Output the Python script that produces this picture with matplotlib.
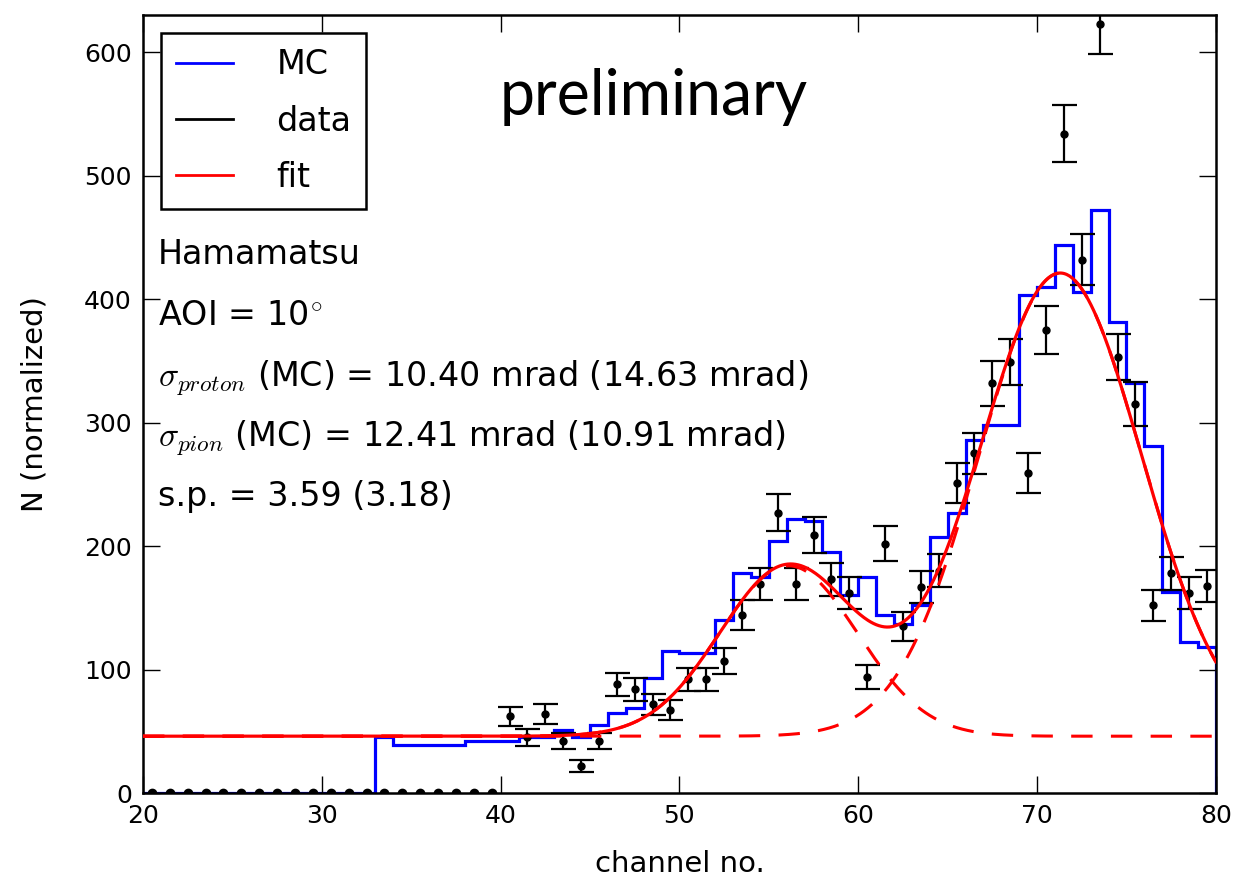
import numpy as np
import matplotlib
matplotlib.use('Agg')
import matplotlib.pyplot as plt
from matplotlib.lines import Line2D

# channel bins (1 channel wide) from 20 to 80
bin_edges = np.arange(20, 81)

# MC histogram, one value per bin 20..79
mc_counts = [0] * 13 + [45, 39, 39, 39, 39, 42, 42, 42, 45, 45,
                        51, 45, 55, 65, 69, 93, 115, 113, 113, 140,
                        178, 175, 204, 222, 220, 195, 160, 175, 144, 137,
                        152, 207, 227, 286, 298, 298, 403, 410, 444, 406,
                        472, 381, 332, 281, 163, 122, 118]

# measured data, one value per bin 20..79
data_counts = [0] * 20 + [62, 45, 64, 42, 22, 42, 88, 84, 72, 67,
                          92, 92, 107, 144, 169, 227, 169, 209, 173, 162,
                          94, 202, 135, 167, 180, 251, 275, 332, 349, 259,
                          375, 534, 432, 623, 353, 315, 152, 178, 162, 168]

# fit: flat background + two gaussians (proton, pion)
bkg = 46.0
amp1, mu1, sig1 = 138.0, 56.1, 3.85
amp2, mu2, sig2 = 375.0, 71.3, 4.55

info_lines = [
    'Hamamatsu',
    r'AOI = 10$^{\circ}$',
    r'$\sigma_{proton}$ (MC) = 10.40 mrad (14.63 mrad)',
    r'$\sigma_{pion}$ (MC) = 12.41 mrad (10.91 mrad)',
    's.p. = 3.59 (3.18)',
]
info_y = [436, 387, 336, 288, 240]

plt.rcParams['mathtext.fontset'] = 'cm'

fig = plt.figure(figsize=(12.36, 8.82), dpi=100)
ax = fig.add_axes([0.1157, 0.1009, 0.868, 0.8821])

mc = np.array(mc_counts, dtype=float)
data = np.array(data_counts, dtype=float)
centers = bin_edges[:-1] + 0.5

ax.stairs(mc, bin_edges, baseline=0, color='blue', lw=2.3, zorder=1)

# data points with poisson errors
nz = data > 0
ax.errorbar(centers[nz], data[nz], yerr=np.sqrt(data[nz]), fmt='o', color='k',
            ms=5, capsize=9, elinewidth=1.6, capthick=1.6, zorder=2)
ax.plot(centers[~nz], data[~nz], 'o', color='k', ms=6, zorder=2)

xf = np.linspace(20, 80, 800)
g1 = amp1 * np.exp(-(xf - mu1) ** 2 / (2 * sig1 ** 2))
g2 = amp2 * np.exp(-(xf - mu2) ** 2 / (2 * sig2 ** 2))
ax.plot(xf, bkg + g1, color='red', lw=2.2, dashes=(7, 6), zorder=3)
ax.plot(xf, bkg + g2, color='red', lw=2.2, dashes=(7, 6), zorder=3)
ax.plot(xf, bkg + g1 + g2, color='red', lw=2.3, zorder=4)

ax.set_xlim(20, 80)
ax.set_ylim(0, 630)
ax.set_xticks(np.arange(20, 81, 10))
ax.set_yticks(np.arange(0, 601, 100))
ax.tick_params(direction='in', length=12, width=1, top=True, right=True,
               labelsize=18, pad=8)
for sp in ax.spines.values():
    sp.set_linewidth(1.8)

ax.set_xlabel('channel no.', fontsize=21, labelpad=16)
ax.set_ylabel('N (normalized)', fontsize=21, labelpad=26)

handles = [Line2D([], [], color='blue', lw=2),
           Line2D([], [], color='black', lw=2),
           Line2D([], [], color='red', lw=2)]
leg = ax.legend(handles, ['MC', 'data', 'fit'], loc='upper left',
                fontsize=24, fancybox=False, framealpha=1,
                handlelength=1.7, handletextpad=1.3, labelspacing=0.7,
                borderaxespad=0.55, borderpad=0.45)
leg.get_frame().set_edgecolor('black')
leg.get_frame().set_linewidth(1.8)

for txt, yy in zip(info_lines, info_y):
    ax.text(20.85, yy, txt, fontsize=24, va='center', ha='left')

ax.text(39.97, 564, 'preliminary', fontsize=45, family='Lato',
        va='center', ha='left')

fig.savefig('out.png', dpi=100)
